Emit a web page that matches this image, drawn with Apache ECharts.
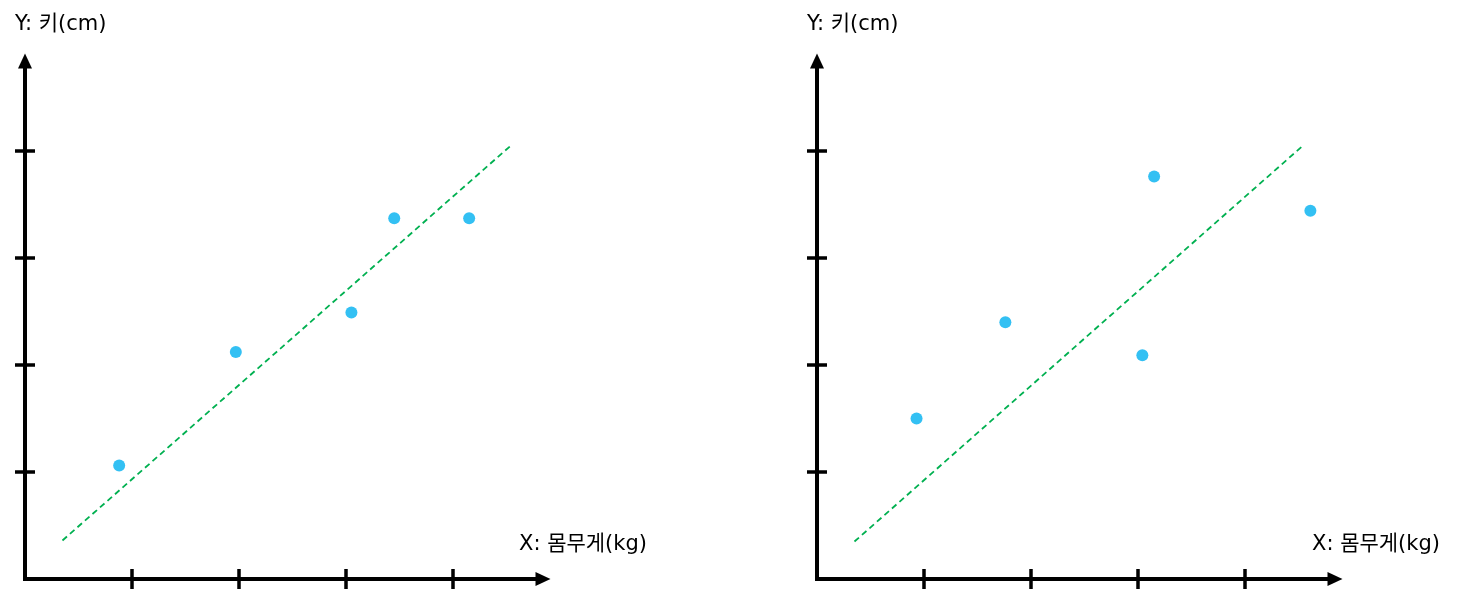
<!DOCTYPE html>
<html>
<head>
<meta charset="utf-8">
<style>
html,body{margin:0;padding:0;background:#fff;}
#c{width:1462px;height:596px;}
</style>
<script src="https://cdn.jsdelivr.net/npm/echarts@6/dist/echarts.min.js"></script>
</head>
<body>
<div id="c"></div>
<script>
// ---- data ----
const xName = 'X: 몸무게(kg)';
const yName = 'Y: 키(cm)';
const tickValues = [1, 2, 3, 4];
const axisMax = 4.84;
const pointsLeft = [[0.88, 1.06], [1.97, 2.12], [3.05, 2.49], [3.45, 3.37], [4.15, 3.37]];
const trendLeft = [[0.35, 0.36], [4.54, 4.05]];
const pointsRight = [[0.93, 1.50], [1.76, 2.40], [3.04, 2.09], [3.15, 3.76], [4.61, 3.44]];
const trendRight = [[0.35, 0.35], [4.53, 4.04]];

const chart = echarts.init(document.getElementById('c'));
const FONT = '"DejaVu Sans", "Noto Sans CJK KR", sans-serif';

function axisPair(type, gridIndex) {
  const main = {
    type: 'value', gridIndex: gridIndex, min: 0, max: axisMax,
    position: type === 'x' ? 'bottom' : 'left',
    axisLine: { show: true, onZero: false, symbol: ['none', 'triangle'], symbolSize: [14, 15],
      lineStyle: { color: '#000', width: 4, cap: 'square' } },
    axisTick: { show: true, length: 10, customValues: tickValues, lineStyle: { color: '#000', width: 3.5 } },
    axisLabel: { show: false },
    splitLine: { show: false }
  };
  const inner = {
    type: 'value', gridIndex: gridIndex, min: 0, max: axisMax,
    position: type === 'x' ? 'bottom' : 'left',
    axisLine: { show: false, onZero: false },
    axisTick: { show: true, inside: true, length: 10, customValues: tickValues, lineStyle: { color: '#000', width: 3.5 } },
    axisLabel: { show: false },
    splitLine: { show: false }
  };
  return [main, inner];
}

const xAxes = [...axisPair('x', 0), ...axisPair('x', 1)];
const yAxes = [...axisPair('y', 0), ...axisPair('y', 1)];

function seriesFor(idx, pts, trend) {
  return [
    { type: 'line', xAxisIndex: idx * 2, yAxisIndex: idx * 2, data: trend, symbol: 'none', silent: true,
      lineStyle: { color: '#00B050', width: 1.8, type: [6, 4] }, z: 2 },
    { type: 'scatter', xAxisIndex: idx * 2, yAxisIndex: idx * 2, data: pts, symbolSize: 12,
      itemStyle: { color: '#00B0F0' }, z: 3 }
  ];
}

const nameStyle = { fontFamily: FONT, fontSize: 21, fontWeight: 'normal', color: '#000' };
chart.setOption({
  animation: false,
  backgroundColor: '#fff',
  textStyle: { fontFamily: FONT },
  title: [
    { text: yName, left: 10, top: 9, textStyle: nameStyle },
    { text: xName, left: 514, top: 529, textStyle: nameStyle },
    { text: yName, left: 802, top: 9, textStyle: nameStyle },
    { text: xName, left: 1307, top: 529, textStyle: nameStyle }
  ],
  grid: [
    { left: 25, top: 61, width: 518, height: 518 },
    { left: 817, top: 61, width: 518, height: 518 }
  ],
  xAxis: xAxes,
  yAxis: yAxes,
  series: [...seriesFor(0, pointsLeft, trendLeft), ...seriesFor(1, pointsRight, trendRight)]
});
</script>
</body>
</html>
